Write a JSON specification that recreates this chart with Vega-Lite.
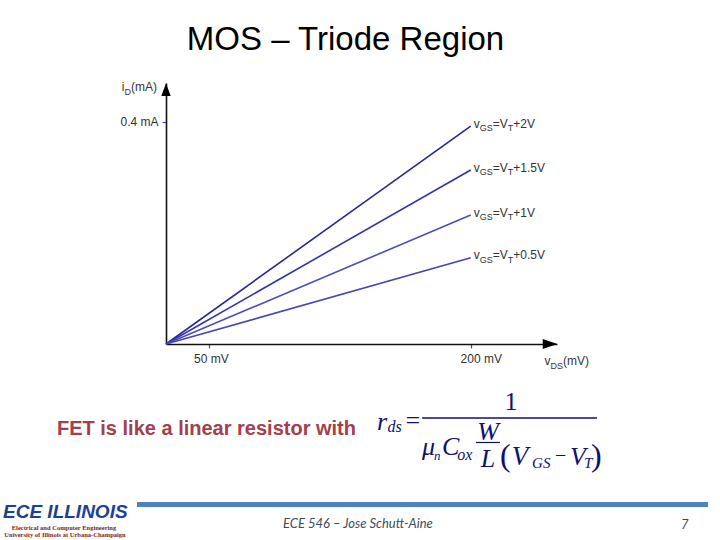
{
  "$schema": "https://vega.github.io/schema/vega-lite/v6.json",
  "width": 391,
  "height": 261,
  "autosize": {"type": "none"},
  "padding": {"left": 166, "top": 83, "right": 163, "bottom": 196},
  "background": "white",
  "title": {"text": "MOS – Triode Region", "font": "Liberation Sans", "fontSize": 33, "fontWeight": "normal", "color": "#000000", "anchor": "middle", "frame": "group", "dx": -16, "offset": -2, "baseline": "alphabetic"},
  "config": {"view": {"stroke": null}},
  "datasets": {
    "curves": [
      {"curve": "VT+2V", "step": "+2V", "vds": 0, "id": 0},
      {"curve": "VT+2V", "step": "+2V", "vds": 200, "id": 0.392},
      {"curve": "VT+1.5V", "step": "+1.5V", "vds": 0, "id": 0},
      {"curve": "VT+1.5V", "step": "+1.5V", "vds": 200, "id": 0.313},
      {"curve": "VT+1V", "step": "+1V", "vds": 0, "id": 0},
      {"curve": "VT+1V", "step": "+1V", "vds": 200, "id": 0.232},
      {"curve": "VT+0.5V", "step": "+0.5V", "vds": 0, "id": 0},
      {"curve": "VT+0.5V", "step": "+0.5V", "vds": 200, "id": 0.155}
    ]
  },
  "layer": [
    {
      "data": {"name": "curves"},
      "layer": [
        {
          "mark": {"type": "line", "strokeWidth": 1.6},
          "encoding": {
            "x": {"field": "vds", "type": "quantitative",
              "scale": {"domain": [0, 50, 249.5], "range": [0, 43.3, 391], "nice": false, "zero": false},
              "axis": {"title": null, "values": [50, 200], "labelExpr": "datum.value + ' mV'", "grid": false, "domainColor": "#111111", "domainWidth": 1.6, "tickColor": "#4646c0", "tickWidth": 1.2, "tickSize": 4, "labelFont": "Liberation Sans", "labelFontSize": 12, "labelColor": "#333333", "labelBaseline": "alphabetic", "labelPadding": 14, "labelFlush": false, "labelOverlap": false, "labelOffset": {"condition": {"test": "datum.value > 100", "value": 10}, "value": 1.5}}},
            "y": {"field": "id", "type": "quantitative",
              "scale": {"domain": [0, 0.4696], "nice": false, "zero": false},
              "axis": {"title": null, "values": [0.4], "labelExpr": "'0.4 mA'", "grid": false, "domainColor": "#111111", "domainWidth": 1.6, "tickColor": "#4646c0", "tickWidth": 1.2, "tickSize": 4, "labelFont": "Liberation Sans", "labelFontSize": 12, "labelColor": "#333333", "labelBaseline": "middle", "labelPadding": 4, "labelFlush": false}},
            "color": {"field": "curve", "type": "nominal", "scale": {"domain": ["VT+2V", "VT+1.5V", "VT+1V", "VT+0.5V"], "range": ["#28289a", "#3535a8", "#4d4db8", "#4545b2"]}, "legend": null}
          }
        },
        {
          "transform": [{"filter": "datum.vds > 0"}],
          "mark": {"type": "text", "align": "left", "baseline": "alphabetic", "font": "Liberation Sans", "fontSize": 12, "color": "#333333", "dx": 3, "dy": 1.5},
          "encoding": {"x": {"field": "vds", "type": "quantitative", "title": null}, "y": {"field": "id", "type": "quantitative", "title": null}, "text": {"value": "v"}}
        },
        {
          "transform": [{"filter": "datum.vds > 0"}],
          "mark": {"type": "text", "align": "left", "baseline": "alphabetic", "font": "Liberation Sans", "fontSize": 9, "color": "#333333", "dx": 9, "dy": 5},
          "encoding": {"x": {"field": "vds", "type": "quantitative", "title": null}, "y": {"field": "id", "type": "quantitative", "title": null}, "text": {"value": "GS"}}
        },
        {
          "transform": [{"filter": "datum.vds > 0"}],
          "mark": {"type": "text", "align": "left", "baseline": "alphabetic", "font": "Liberation Sans", "fontSize": 12, "color": "#333333", "dx": 22, "dy": 1.5},
          "encoding": {"x": {"field": "vds", "type": "quantitative", "title": null}, "y": {"field": "id", "type": "quantitative", "title": null}, "text": {"value": "=V"}}
        },
        {
          "transform": [{"filter": "datum.vds > 0"}],
          "mark": {"type": "text", "align": "left", "baseline": "alphabetic", "font": "Liberation Sans", "fontSize": 9, "color": "#333333", "dx": 37, "dy": 5},
          "encoding": {"x": {"field": "vds", "type": "quantitative", "title": null}, "y": {"field": "id", "type": "quantitative", "title": null}, "text": {"value": "T"}}
        },
        {
          "transform": [{"filter": "datum.vds > 0"}],
          "mark": {"type": "text", "align": "left", "baseline": "alphabetic", "font": "Liberation Sans", "fontSize": 12, "color": "#333333", "dx": 42.5, "dy": 1.5},
          "encoding": {"x": {"field": "vds", "type": "quantitative", "title": null}, "y": {"field": "id", "type": "quantitative", "title": null}, "text": {"field": "step"}}
        }
      ]
    },
    {
      "data": {"values": [{}]},
      "layer": [
        {"mark": {"type": "point", "shape": "M1,0L-1,-0.685L-1,0.685Z", "filled": true, "fill": "#000000", "strokeWidth": 0, "size": 213, "opacity": 1},
         "encoding": {"x": {"datum": 245.5}, "y": {"datum": 0}}},
        {"mark": {"type": "point", "shape": "M0,-1L0.74,1L-0.74,1Z", "filled": true, "fill": "#000000", "strokeWidth": 0, "size": 161, "opacity": 1},
         "encoding": {"x": {"datum": 0}, "y": {"datum": 0.4576}}},

        {"mark": {"type": "text", "align": "left", "baseline": "alphabetic", "font": "Liberation Sans", "fontSize": 12, "color": "#333333"},
         "encoding": {"x": {"datum": -51.2}, "y": {"datum": 0.4552}, "text": {"value": "i"}}},
        {"mark": {"type": "text", "align": "left", "baseline": "alphabetic", "font": "Liberation Sans", "fontSize": 9, "color": "#333333"},
         "encoding": {"x": {"datum": -48.0}, "y": {"datum": 0.448}, "text": {"value": "D"}}},
        {"mark": {"type": "text", "align": "left", "baseline": "alphabetic", "font": "Liberation Sans", "fontSize": 12, "color": "#333333"},
         "encoding": {"x": {"datum": -40.4}, "y": {"datum": 0.4552}, "text": {"value": "(mA)"}}},

        {"mark": {"type": "text", "align": "left", "baseline": "alphabetic", "font": "Liberation Sans", "fontSize": 12, "color": "#333333"},
         "encoding": {"x": {"datum": 242.3}, "y": {"datum": -0.0369}, "text": {"value": "v"}}},
        {"mark": {"type": "text", "align": "left", "baseline": "alphabetic", "font": "Liberation Sans", "fontSize": 9, "color": "#333333"},
         "encoding": {"x": {"datum": 245.8}, "y": {"datum": -0.0441}, "text": {"value": "DS"}}},
        {"mark": {"type": "text", "align": "left", "baseline": "alphabetic", "font": "Liberation Sans", "fontSize": 12, "color": "#333333"},
         "encoding": {"x": {"datum": 253.0}, "y": {"datum": -0.0369}, "text": {"value": "(mV)"}}},

        {"mark": {"type": "text", "align": "left", "baseline": "alphabetic", "font": "Liberation Sans", "fontSize": 20, "fontWeight": "bold", "color": "#a4404b"},
         "encoding": {"x": {"datum": -125.9}, "y": {"datum": -0.1637}, "text": {"value": "FET is like a linear resistor with"}}},

        {"mark": {"type": "text", "align": "left", "baseline": "alphabetic", "font": "Liberation Serif", "fontSize": 26, "fontStyle": "italic", "color": "#101070"},
         "encoding": {"x": {"datum": 146.2}, "y": {"datum": -0.1547}, "text": {"value": "r"}}},
        {"mark": {"type": "text", "align": "left", "baseline": "alphabetic", "font": "Liberation Serif", "fontSize": 16, "fontStyle": "italic", "color": "#101070"},
         "encoding": {"x": {"datum": 152.3}, "y": {"datum": -0.1592}, "text": {"value": "ds"}}},
        {"mark": {"type": "text", "align": "left", "baseline": "alphabetic", "font": "Liberation Serif", "fontSize": 26, "color": "#101070"},
         "encoding": {"x": {"datum": 162.6}, "y": {"datum": -0.1529}, "text": {"value": "="}}},
        {"mark": {"type": "rule", "color": "#101070", "strokeWidth": 1.4},
         "encoding": {"x": {"datum": 172.1}, "x2": {"datum": 272.5}, "y": {"datum": -0.1332}}},
        {"mark": {"type": "text", "align": "center", "baseline": "alphabetic", "font": "Liberation Serif", "fontSize": 26, "color": "#101070"},
         "encoding": {"x": {"datum": 223.1}, "y": {"datum": -0.1188}, "text": {"value": "1"}}},
        {"mark": {"type": "text", "align": "left", "baseline": "alphabetic", "font": "Liberation Serif", "fontSize": 26, "fontStyle": "italic", "color": "#101070"},
         "encoding": {"x": {"datum": 172.0}, "y": {"datum": -0.1997}, "text": {"value": "μ"}}},
        {"mark": {"type": "text", "align": "left", "baseline": "alphabetic", "font": "Liberation Serif", "fontSize": 13, "fontStyle": "italic", "color": "#101070"},
         "encoding": {"x": {"datum": 178.9}, "y": {"datum": -0.2087}, "text": {"value": "n"}}},
        {"mark": {"type": "text", "align": "left", "baseline": "alphabetic", "font": "Liberation Serif", "fontSize": 26, "fontStyle": "italic", "color": "#101070"},
         "encoding": {"x": {"datum": 183.5}, "y": {"datum": -0.1997}, "text": {"value": "C"}}},
        {"mark": {"type": "text", "align": "left", "baseline": "alphabetic", "font": "Liberation Serif", "fontSize": 16, "fontStyle": "italic", "color": "#101070"},
         "encoding": {"x": {"datum": 192.2}, "y": {"datum": -0.2087}, "text": {"value": "ox"}}},
        {"mark": {"type": "text", "align": "center", "baseline": "alphabetic", "font": "Liberation Serif", "fontSize": 26, "fontStyle": "italic", "color": "#101070"},
         "encoding": {"x": {"datum": 209.9}, "y": {"datum": -0.1727}, "text": {"value": "W"}}},
        {"mark": {"type": "rule", "color": "#101070", "strokeWidth": 1.2},
         "encoding": {"x": {"datum": 203.0}, "x2": {"datum": 216.8}, "y": {"datum": -0.1772}}},
        {"mark": {"type": "text", "align": "center", "baseline": "alphabetic", "font": "Liberation Serif", "fontSize": 26, "fontStyle": "italic", "color": "#101070"},
         "encoding": {"x": {"datum": 209.9}, "y": {"datum": -0.2213}, "text": {"value": "L"}}},
        {"mark": {"type": "text", "align": "left", "baseline": "alphabetic", "font": "Liberation Serif", "fontSize": 32, "color": "#101070"},
         "encoding": {"x": {"datum": 216.8}, "y": {"datum": -0.2195}, "text": {"value": "("}}},
        {"mark": {"type": "text", "align": "left", "baseline": "alphabetic", "font": "Liberation Serif", "fontSize": 27, "fontStyle": "italic", "color": "#101070"},
         "encoding": {"x": {"datum": 223.6}, "y": {"datum": -0.2177}, "text": {"value": "V"}}},
        {"mark": {"type": "text", "align": "left", "baseline": "alphabetic", "font": "Liberation Serif", "fontSize": 15, "fontStyle": "italic", "color": "#101070"},
         "encoding": {"x": {"datum": 235.2}, "y": {"datum": -0.2231}, "text": {"value": "GS"}}},
        {"mark": {"type": "text", "align": "left", "baseline": "alphabetic", "font": "Liberation Serif", "fontSize": 20, "color": "#101070"},
         "encoding": {"x": {"datum": 248.4}, "y": {"datum": -0.2123}, "text": {"value": "−"}}},
        {"mark": {"type": "text", "align": "left", "baseline": "alphabetic", "font": "Liberation Serif", "fontSize": 26, "fontStyle": "italic", "color": "#101070"},
         "encoding": {"x": {"datum": 257.0}, "y": {"datum": -0.2177}, "text": {"value": "V"}}},
        {"mark": {"type": "text", "align": "left", "baseline": "alphabetic", "font": "Liberation Serif", "fontSize": 15, "fontStyle": "italic", "color": "#101070"},
         "encoding": {"x": {"datum": 265.0}, "y": {"datum": -0.2231}, "text": {"value": "T"}}},
        {"mark": {"type": "text", "align": "left", "baseline": "alphabetic", "font": "Liberation Serif", "fontSize": 32, "color": "#101070"},
         "encoding": {"x": {"datum": 269.0}, "y": {"datum": -0.2195}, "text": {"value": ")"}}},

        {"mark": {"type": "rule", "color": "#4f81bd", "strokeWidth": 5},
         "encoding": {"x": {"datum": -33.5}, "x2": {"datum": 336.2}, "y": {"datum": -0.2888}}},
        {"mark": {"type": "text", "align": "left", "baseline": "alphabetic", "font": "Lato", "fontSize": 13, "fontStyle": "italic", "color": "#3f4b5b"},
         "encoding": {"x": {"datum": 92.3}, "y": {"datum": -0.3311}, "text": {"value": "ECE 546 – Jose Schutt-Aine"}}},
        {"mark": {"type": "text", "align": "left", "baseline": "alphabetic", "font": "Lato", "fontSize": 13, "fontStyle": "italic", "color": "#3f4b5b"},
         "encoding": {"x": {"datum": 320.7}, "y": {"datum": -0.3329}, "text": {"value": "7"}}},
        {"mark": {"type": "text", "align": "left", "baseline": "alphabetic", "font": "Liberation Sans", "fontSize": 19, "fontStyle": "italic", "fontWeight": "bold", "color": "#1d3f95"},
         "encoding": {"x": {"datum": -188.2}, "y": {"datum": -0.3131}, "text": {"value": "ECE ILLINOIS"}}},
        {"mark": {"type": "text", "align": "center", "baseline": "alphabetic", "font": "Liberation Serif", "fontSize": 6.5, "fontWeight": "bold", "color": "#7b2525"},
         "encoding": {"x": {"datum": -117.8}, "y": {"datum": -0.3347}, "text": {"value": "Electrical and Computer Engineering"}}},
        {"mark": {"type": "text", "align": "center", "baseline": "alphabetic", "font": "Liberation Serif", "fontSize": 6.5, "fontWeight": "bold", "color": "#7b2525"},
         "encoding": {"x": {"datum": -116.6}, "y": {"datum": -0.3473}, "text": {"value": "University of Illinois at Urbana-Champaign"}}}
      ]
    }
  ]
}
